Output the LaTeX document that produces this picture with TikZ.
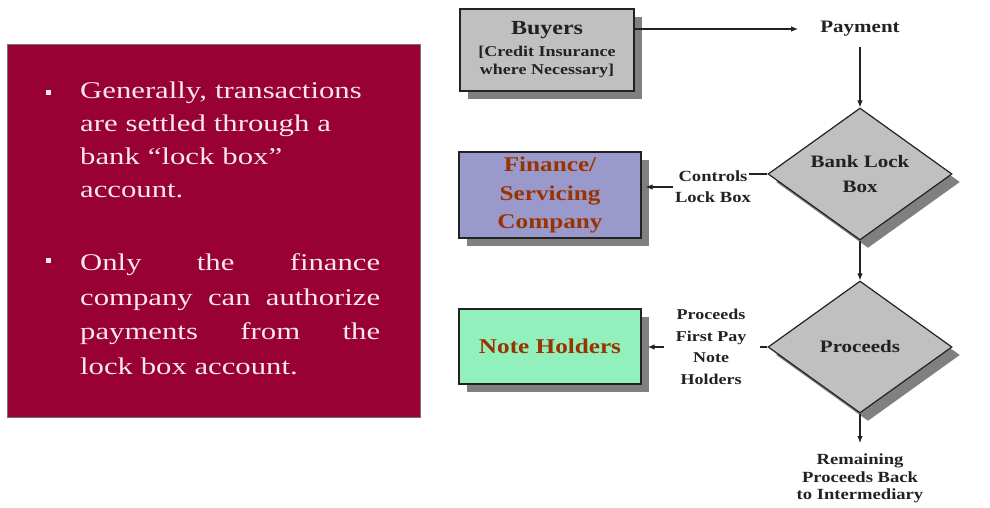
\documentclass[tikz,border=0pt]{standalone}
\usepackage{fontspec}
\setmainfont[FakeStretch=1.2]{Liberation Serif}
\newfontfamily\panelfont[FakeStretch=1.28]{Liberation Serif}
\usetikzlibrary{shapes.geometric,arrows.meta,shadows}

\definecolor{panelred}{HTML}{990033}
\definecolor{paneltext}{HTML}{F6E8EC}
\definecolor{boxgray}{HTML}{C0C0C0}
\definecolor{shadowgray}{HTML}{808080}
\definecolor{finblue}{HTML}{9999CC}
\definecolor{notegreen}{HTML}{92F0BC}
\definecolor{nameclr}{HTML}{993300}
\definecolor{inkclr}{HTML}{222222}

\tikzset{
  panel/.style={draw=black!55, line width=1pt, fill=panelred, inner sep=0},
  bulletsq/.style={fill=paneltext, minimum size=5pt, inner sep=0},
  para/.style={anchor=north west, inner sep=0, text width=300pt, text=paneltext,
               font=\panelfont\fontsize{24}{#1}\selectfont},
  hardshadow/.style={general shadow={fill=shadowgray, shadow xshift=8pt, shadow yshift=-8pt}},
  flowbox/.style={draw=inkclr, line width=1.2pt, inner sep=0, hardshadow, text=nameclr,
                  align=center},
  decision/.style={diamond, aspect=1.4, minimum width=184pt, minimum height=132pt,
                   inner sep=0, draw=inkclr, line width=1.2pt, fill=boxgray, hardshadow,
                   align=center, text=inkclr, font=\bfseries\fontsize{17.5}{25}\selectfont},
  tag/.style={inner sep=2pt, text=inkclr, align=center},
  wire/.style={draw=inkclr, line width=1.1pt},
  conn/.style={wire, -{Latex[length=7pt,width=5.5pt]}}
}

\begin{document}
\begin{tikzpicture}[x=1pt,y=-1pt]
\useasboundingbox (0,0) rectangle (990,508);

% left text panel
\node[panel, minimum width=413pt, minimum height=372pt] (panel) at (213.5,231) {};
\node[bulletsq] (dot1) at (48,92.5) {};
\node[bulletsq] (dot2) at (48,260.5) {};
\node[para=33, align=left] (txt1) at (80,81.6)
  {Generally, transactions\\ are settled through a\\ bank “lock box”\\ account.};
\node[para=34.5, align=justify] (txt2) at (80,253.6)
  {Only the finance\linebreak company can authorize\linebreak payments from the\linebreak lock box account.};

% flow chart boxes
\node[flowbox, fill=boxgray, text=inkclr, minimum width=174pt, minimum height=82pt,
      font=\bfseries\fontsize{15}{18}\selectfont] (buyers) at (547,50)
  {{\fontsize{20}{20}\selectfont Buyers}\\[4pt] {[}Credit Insurance\\ where Necessary{]}};
\node[flowbox, fill=finblue, minimum width=182pt, minimum height=86pt,
      font=\bfseries\fontsize{21}{28.5}\selectfont] (fin) at (550,195)
  {Finance/\\Servicing\\Company};
\node[flowbox, fill=notegreen, minimum width=182pt, minimum height=75pt,
      font=\bfseries\fontsize{21}{25}\selectfont] (nh) at (550,346.5) {Note Holders};

% decisions
\node[decision] (bank) at (860,174) {Bank Lock\\Box};
\node[decision] (proc) at (860,347) {Proceeds};

% free-standing labels
\node[tag, font=\bfseries\fontsize{17.5}{20}\selectfont] (pay) at (860,29) {Payment};
\node[tag, font=\bfseries\fontsize{15.5}{21}\selectfont] (ctl) at (713,187) {Controls\\Lock Box};
\node[tag, font=\bfseries\fontsize{15}{21.5}\selectfont] (first) at (711,347)
  {Proceeds\\First Pay\\Note\\Holders};
\node[tag, anchor=north, font=\bfseries\fontsize{15.5}{17.5}\selectfont] (rem) at (860,452)
  {Remaining\\Proceeds Back\\to Intermediary};

% connectors
\draw[conn, shorten >=20pt] (buyers.east |- pay.west) -- (pay.west);
\draw[conn, shorten <=8pt] (pay.south) -- (bank.north);
\draw[wire, shorten >=-4pt] (bank.west) -- (bank.west -| ctl.east);
\draw[conn, shorten >=4pt] (ctl.west) -- (ctl.west -| fin.east);
\draw[conn] (bank.south) -- (proc.north);
\draw[wire, shorten >=12pt] (proc.west) -- (proc.west -| first.east);
\draw[conn, shorten <=10pt, shorten >=6pt] (first.west) -- (first.west -| nh.east);
\draw[conn, shorten >=9pt] (proc.south) -- (rem.north);
\end{tikzpicture}
\end{document}
